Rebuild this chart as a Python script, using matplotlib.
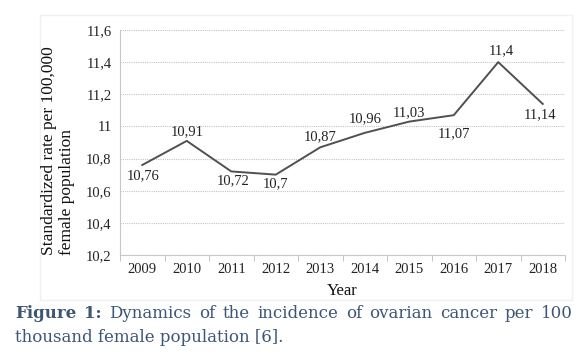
import matplotlib
matplotlib.use('Agg')
import matplotlib.pyplot as plt
from matplotlib.patches import Rectangle
from matplotlib.ticker import FuncFormatter

# data
years = ["2009", "2010", "2011", "2012", "2013", "2014", "2015", "2016", "2017", "2018"]
rates = [10.76, 10.91, 10.72, 10.70, 10.87, 10.96, 11.03, 11.07, 11.40, 11.14]
rate_labels = ["10,76", "10,91", "10,72", "10,7", "10,87", "10,96", "11,03", "11,07", "11,4", "11,14"]
y_ticks = [10.2, 10.4, 10.6, 10.8, 11.0, 11.2, 11.4, 11.6]

# label offsets in pixels (dx, dy)
offsets = [(1, -11), (0, 9), (2, -9), (0, -9), (0, 11), (0, 14), (0, 9), (0, -19), (3, 11), (-3, -11)]

serif = "Liberation Serif"
txt = "#222222"

fig = plt.figure(figsize=(5.88, 3.63), dpi=100)
W, H = 588, 363

# faint frame around the chart picture
fig.patches.append(Rectangle((40 / W, 1 - 300 / H), 532 / W, 285 / H, transform=fig.transFigure,
                             facecolor="none", edgecolor="#f0f0f0", lw=1.0))

ax = fig.add_axes([120 / W, 1 - 255 / H, 445 / W, 225 / H])
x = list(range(len(years)))
ax.plot(x, rates, color="#505050", lw=1.4)

for i, (v, lab) in enumerate(zip(rates, rate_labels)):
    dx, dy = offsets[i]
    ax.annotate(lab, (i, v), xytext=(dx, dy), textcoords="offset pixels",
                ha="center", va="center", fontsize=10.5, family=serif, color=txt)

ax.set_xlim(-0.5, len(years) - 0.5)
ax.set_ylim(10.2, 11.6)
ax.set_yticks(y_ticks)
ax.yaxis.set_major_formatter(FuncFormatter(lambda v, p: ("%g" % round(v, 1)).replace(".", ",")))
ax.set_xticks(x)
ax.set_xticklabels(years)
ax.set_xticks([i + 0.5 for i in range(-1, len(years))], minor=True)
ax.tick_params(axis="x", which="major", length=0, pad=6)
ax.tick_params(axis="x", which="minor", length=4, color="#bbbbbb", direction="out")
ax.tick_params(axis="y", length=0, pad=6)
for lab in ax.get_xticklabels() + ax.get_yticklabels():
    lab.set_family(serif)
    lab.set_fontsize(10.5)
    lab.set_color(txt)

ax.grid(axis="y", color="#c4c4c4", linestyle=(0, (1, 1)), lw=0.8)
ax.set_axisbelow(True)
for s in ["top", "right"]:
    ax.spines[s].set_visible(False)
ax.spines["left"].set_color("#c8c8c8")
ax.spines["bottom"].set_color("#c8c8c8")

ax.set_xlabel("Year", family=serif, fontsize=12, color="#111111", labelpad=5)
fig.text(58 / W, 1 - 255 / H, "Standardized rate per 100,000\nfemale population", rotation=90,
         ha="center", va="bottom", multialignment="left", family=serif, fontsize=12.5,
         color="#111111", linespacing=1.2)

# caption, first line justified across the width
cap = "#3d5675"
cap_size = 12
left, right = 15, 573
words = [("Figure", "bold"), ("1:", "bold"), ("Dynamics", "normal"), ("of", "normal"),
         ("the", "normal"), ("incidence", "normal"), ("of", "normal"), ("ovarian", "normal"),
         ("cancer", "normal"), ("per", "normal"), ("100", "normal")]
renderer = fig.canvas.get_renderer()
items = []
for w, fw in words:
    t = fig.text(0, 1 - 313 / H, w, family="DejaVu Serif", fontsize=cap_size, fontweight=fw,
                 color=cap, va="center")
    items.append((t, t.get_window_extent(renderer).width))
total = sum(wd for _, wd in items)
gap = (right - left - total) / (len(items) - 1)
xpos = left
for t, wd in items:
    t.set_x(xpos / W)
    xpos += wd + gap
fig.text(left / W, 1 - 337 / H, "thousand female population [6].",
         family="DejaVu Serif", fontsize=cap_size, color=cap, va="center")

fig.savefig("out.png", dpi=100)
